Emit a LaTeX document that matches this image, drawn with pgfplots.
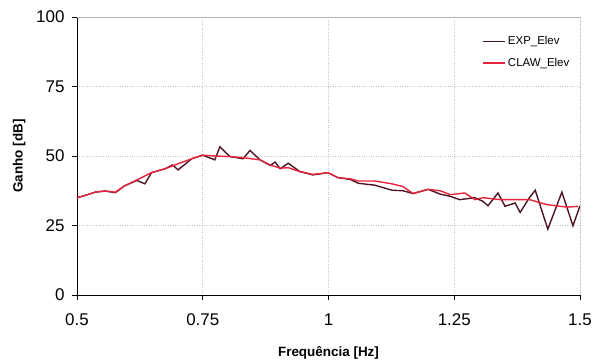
\documentclass[border=0pt]{standalone}
\usepackage{pgfplots}
\pgfplotsset{compat=1.18}
\usepackage{fontspec}
\setmainfont{Liberation Sans}
\definecolor{expc}{HTML}{4D1422}
\definecolor{clawc}{HTML}{E8243C}
\begin{document}
\begin{tikzpicture}
\begin{axis}[
  name=ax,
  scale only axis,
  width=503bp, height=278bp,
  xmin=0.5, xmax=1.5, ymin=0, ymax=100,
  xtick={0.5,0.75,1,1.25,1.5},
  xticklabels={0.5,0.75,1,1.25,1.5},
  ytick={0,25,50,75,100},
  axis x line*=bottom, axis y line*=left,
  axis line style={black, line width=0.9pt, -},
  tick style={black, line width=0.8pt},
  tick align=outside, major tick length=5bp,
  grid=major,
  grid style={gray!45, dotted, line width=0.7pt},
  ticklabel style={font=\fontsize{17}{19}\selectfont},
  /pgf/number format/assume math mode=true,
  xticklabel style={yshift=-10bp},
  yticklabel style={xshift=-4bp},
  xlabel={\textbf{Frequência [Hz]}},
  ylabel={\textbf{Ganho [dB]}},
  label style={font=\fontsize{13.5}{15}\selectfont},
  xlabel style={yshift=-14bp},
  ylabel style={yshift=4bp},
  legend style={draw=none, fill=none, at={(rel axis cs:0.80,0.945)}, anchor=north west,
    font=\fontsize{11.5}{13}\selectfont, row sep=8bp},
  legend cell align=left,
  legend image code/.code={\draw[mark repeat=2,mark phase=2,#1] plot coordinates {(0bp,0bp) (11bp,0bp) (22bp,0bp)};},
]
\addplot[expc, line width=1.4pt] coordinates {
(0.500,35.0) (0.516,35.8) (0.536,37.0) (0.556,37.4) (0.576,36.8) (0.595,39.3)
(0.619,41.2) (0.635,40.0) (0.648,44.0) (0.675,45.4) (0.690,46.8) (0.701,45.0)
(0.728,49.0) (0.750,50.3) (0.774,48.6) (0.784,53.3) (0.804,49.8) (0.830,49.0)
(0.844,52.0) (0.864,48.6) (0.884,46.6) (0.894,47.8) (0.904,45.4) (0.920,47.4)
(0.943,44.4) (0.969,43.2) (0.999,44.0) (1.019,42.2) (1.043,41.6) (1.059,40.2)
(1.092,39.5) (1.126,37.7) (1.148,37.5) (1.168,36.5) (1.198,38.0) (1.222,36.3)
(1.242,35.5) (1.261,34.3) (1.291,35.0) (1.307,33.7) (1.317,32.1) (1.337,36.7)
(1.351,31.9) (1.371,33.1) (1.381,29.7) (1.399,34.9) (1.411,37.7) (1.436,23.7)
(1.464,37.0) (1.486,24.9) (1.500,32.1)
};
\addlegendentry{EXP\_Elev}
\addplot[clawc, line width=1.4pt] coordinates {
(0.500,35.0) (0.516,35.8) (0.536,37.0) (0.556,37.4) (0.576,37.0) (0.595,39.3)
(0.619,41.4) (0.648,44.0) (0.675,45.4) (0.695,46.8) (0.728,49.0) (0.750,50.3)
(0.775,50.0) (0.804,49.8) (0.830,49.4) (0.864,48.6) (0.884,46.8) (0.904,45.6)
(0.920,45.8) (0.943,44.4) (0.969,43.4) (0.999,44.0) (1.019,42.2) (1.043,41.8)
(1.059,41.0) (1.092,41.0) (1.126,40.0) (1.148,39.0) (1.168,36.5) (1.198,38.0)
(1.222,37.5) (1.242,36.1) (1.271,36.7) (1.291,34.3) (1.307,35.0) (1.341,34.3)
(1.375,34.3) (1.400,34.3) (1.434,32.5) (1.474,31.6) (1.496,31.9)
};
\addlegendentry{CLAW\_Elev}
\draw[gray!60, line width=0.6pt] (rel axis cs:0,1) -- (rel axis cs:1,1);
\draw[gray!80!black, line width=0.8pt] (rel axis cs:1,0) -- (rel axis cs:1,1);
\end{axis}
\pgfresetboundingbox
\path ([xshift=-77bp,yshift=-66bp]ax.south west) rectangle ([xshift=13bp,yshift=17bp]ax.north east);
\end{tikzpicture}
\end{document}
